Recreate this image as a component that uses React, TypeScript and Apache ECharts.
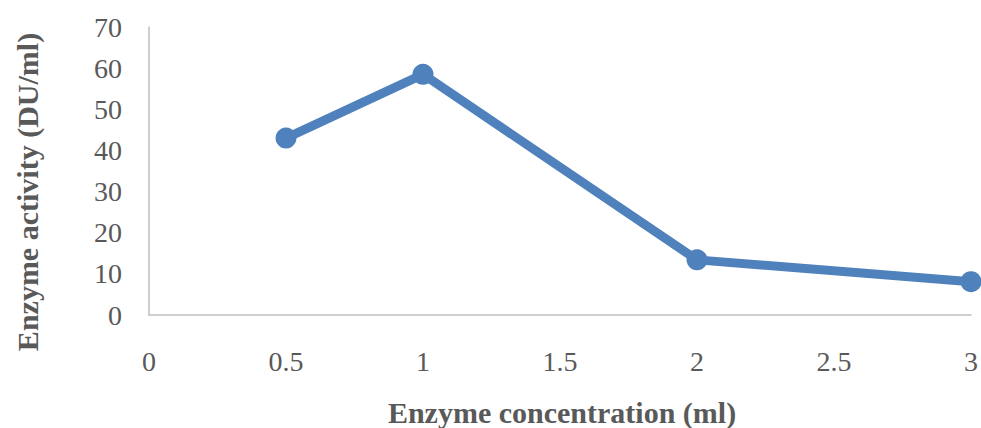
import React, { useEffect, useRef } from "react";
import * as echarts from "echarts";

const concentrations = [0.5, 1, 2, 3];
const activity = [43, 58.5, 13.4, 8.1];
const xTitle = "Enzyme concentration (ml)";
const yTitle = "Enzyme activity (DU/ml)";

export default function App() {
  const ref = useRef<HTMLDivElement>(null);
  useEffect(() => {
    if (!ref.current) return;
    const chart = echarts.init(ref.current, null, { renderer: "svg" });
    const font = "Liberation Serif";
    chart.setOption({
      animation: false,
      backgroundColor: "#ffffff",
      grid: { left: 149, right: 6, top: 27, bottom: 113, containLabel: false },
      xAxis: {
        type: "value",
        min: 0,
        max: 3,
        interval: 0.5,
        axisLine: { show: true, lineStyle: { color: "#bfbfbf", width: 1.5 } },
        axisTick: { show: false },
        splitLine: { show: false },
        axisLabel: { color: "#595959", fontFamily: font, fontSize: 28, margin: 32 },
      },
      yAxis: {
        type: "value",
        min: 0,
        max: 70,
        interval: 10,
        axisLine: { show: true, lineStyle: { color: "#bfbfbf", width: 1.5 } },
        axisTick: { show: false },
        splitLine: { show: false },
        axisLabel: { color: "#595959", fontFamily: font, fontSize: 28, margin: 27 },
      },
      graphic: [
        {
          type: "text",
          x: 562,
          y: 412,
          style: {
            text: xTitle,
            fill: "#595959",
            fontFamily: font,
            fontWeight: "bold",
            fontSize: 30,
            textAlign: "center",
            textVerticalAlign: "middle",
          },
        },
        {
          type: "text",
          x: 27,
          y: 192,
          rotation: Math.PI / 2,
          style: {
            text: yTitle,
            fill: "#595959",
            fontFamily: font,
            fontWeight: "bold",
            fontSize: 30,
            textAlign: "center",
            textVerticalAlign: "middle",
          },
        },
      ],
      series: [
        {
          type: "line",
          data: concentrations.map((c, i) => [c, activity[i]]),
          symbol: "circle",
          symbolSize: 21,
          lineStyle: { color: "#4f81bd", width: 9 },
          itemStyle: { color: "#4f81bd" },
          clip: false,
        },
      ],
    });
    return () => chart.dispose();
  }, []);
  return (
    <div
      ref={ref}
      style={{ position: "absolute", left: 0, top: 0, width: 981, height: 428 }}
    />
  );
}
